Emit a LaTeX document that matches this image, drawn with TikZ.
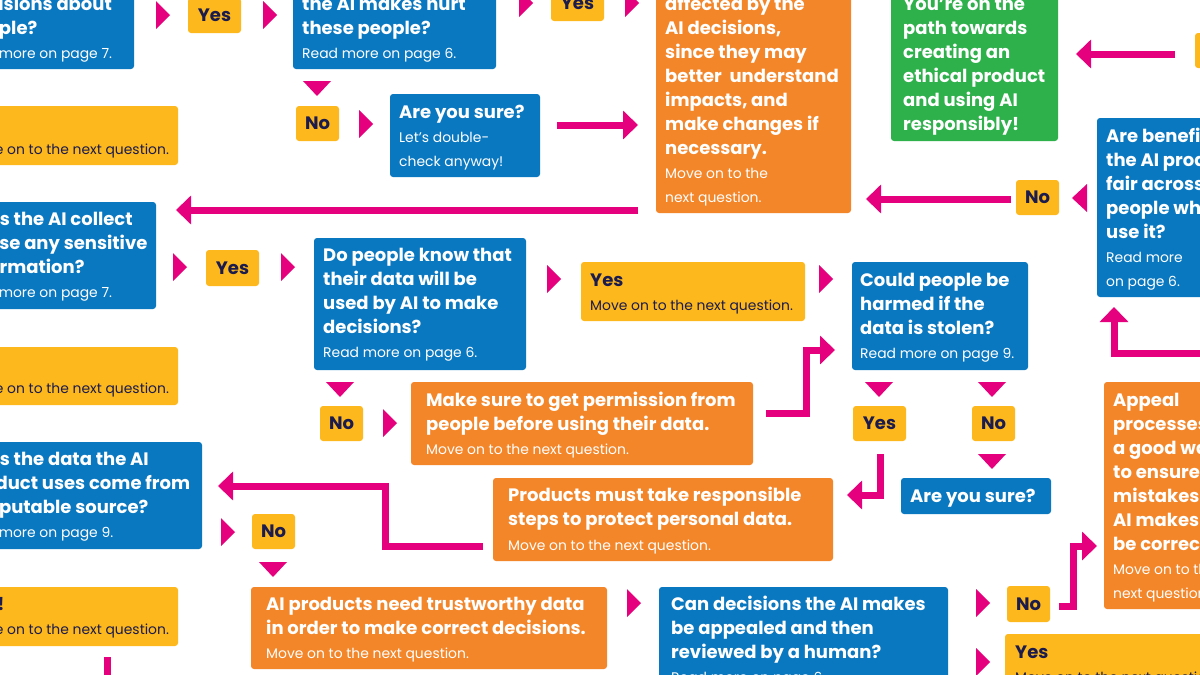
\documentclass[tikz,border=0pt]{standalone}
\usepackage{fontspec}
\setmainfont{Poppins}
\usetikzlibrary{arrows.meta,fit}
\definecolor{cblue}{HTML}{0A78C0}
\definecolor{corange}{HTML}{F4862A}
\definecolor{cyellow}{HTML}{FDB81E}
\definecolor{cgreen}{HTML}{2EB04B}
\definecolor{cpink}{HTML}{E5007D}
\definecolor{cnavy}{HTML}{1B1B4D}
\newcommand\tlines[5]{\foreach \t [count=\i] in {#5} {\node[#4] (#1\i) at (#2,{#3+24*(\i-1)}) {\t};}}
\newcommand\rtri[3]{\fill[cpink] (#2,{#3-14}) -- (#2+14,#3) -- (#2,{#3+14}) -- cycle; \coordinate (#1) at (#2,#3);}
\newcommand\ltri[3]{\fill[cpink] (#2+15,{#3-14}) -- (#2,#3) -- (#2+15,{#3+14}) -- cycle; \coordinate (#1) at (#2,#3);}
\newcommand\dtri[3]{\fill[cpink] ({#2-14},#3) -- (#2+14,#3) -- (#2,{#3+15}) -- cycle; \coordinate (#1) at (#2,#3);}
\begin{document}
\begin{tikzpicture}[x=1pt,y=-1pt,
  box/.style={fill=#1, rounded corners=3pt, inner sep=0pt, draw=none},
  bb/.style={box=cblue}, ob/.style={box=corange}, yb/.style={box=cyellow}, gb/.style={box=cgreen},
  lbl/.style={inner sep=0pt, text=cnavy, font=\bfseries\fontsize{18}{20}\selectfont},
  qb/.style={anchor=base west, inner sep=0pt, text=white, font=\bfseries\fontsize{18}{24}\selectfont},
  qs/.style={anchor=base west, inner sep=0pt, text=white, font=\fontsize{13.9}{24}\selectfont},
  nb/.style={qb, text=cnavy}, ns/.style={qs, text=cnavy},
  conn/.style={draw=cpink, line width=7pt, line join=miter, -{Triangle[length=15pt 0 0, width=28pt 0 0]}},
  plain/.style={draw=cpink, line width=7pt}]
\useasboundingbox (0,0) rectangle (1200,675);
\clip (0,0) rectangle (1200,675);
\fill[white] (0,0) rectangle (1200,675);

% ---------- boxes ----------
\node[bb, fit={(-50,-60) (134,69)}] (b1) {};
\node[bb, fit={(293,-60) (496,69)}] (b2) {};
\node[bb, fit={(390,94) (540,177)}] (sure) {};
\node[bb, fit={(1097,118) (1250,297)}] (ben) {};
\node[bb, fit={(-50,202) (156,309)}] (b3) {};
\node[bb, fit={(314,238) (526,370)}] (know) {};
\node[bb, fit={(852,262) (1028,370)}] (could) {};
\node[bb, fit={(901,478) (1051,514)}] (sure2) {};
\node[bb, fit={(-50,442) (202,549)}] (b4) {};
\node[bb, fit={(659,587) (948,700)}] (can) {};
\node[ob, fit={(656,-60) (851,213)}] (o1) {};
\node[ob, fit={(411,382) (753,465)}] (make) {};
\node[ob, fit={(1104,382) (1250,609)}] (app) {};
\node[ob, fit={(493,478) (833,561)}] (prod) {};
\node[ob, fit={(251,587) (607,669)}] (aip) {};
\node[gb, fit={(891,-60) (1058,141)}] (g1) {};
\node[yb, fit={(-50,106) (178,165)}] (y1) {};
\node[yb, fit={(-50,347) (178,405)}] (y2) {};
\node[yb, fit={(-50,587) (178,646)}] (y3) {};
\node[yb, fit={(581,262) (805,321)}] (ym1) {};
\node[yb, fit={(1005,634) (1250,700)}] (ym2) {};
\node[yb, fit={(1195,33) (1250,68)}] (yr) {};
\node[yb, fit={(188,-2) (241,33)}] (yes1) {};
\node[yb, fit={(551,-14) (604,21)}] (yes2) {};
\node[yb, fit={(296,106) (339,141)}] (no1) {};
\node[yb, fit={(1016,180) (1059,215)}] (no2) {};
\node[yb, fit={(206,250) (259,286)}] (yes3) {};
\node[yb, fit={(320,406) (363,441)}] (no3) {};
\node[yb, fit={(853,406) (906,441)}] (yes4) {};
\node[yb, fit={(972,406) (1015,441)}] (no4) {};
\node[yb, fit={(252,514) (295,549)}] (no5) {};
\node[yb, fit={(1007,586) (1050,622)}] (no6) {};
\node[lbl] (lyes1) at (yes1) {Yes};
\node[lbl] (lyes2) at (yes2) {Yes};
\node[lbl] (lno1) at (no1) {No};
\node[lbl] (lno2) at (no2) {No};
\node[lbl] (lyes3) at (yes3) {Yes};
\node[lbl] (lno3) at (no3) {No};
\node[lbl] (lyes4) at (yes4) {Yes};
\node[lbl] (lno4) at (no4) {No};
\node[lbl] (lno5) at (no5) {No};
\node[lbl] (lno6) at (no6) {No};

% ---------- texts ----------
\tlines{tb1a}{-36}{10}{qb}{decisions about, people?}
\tlines{tb1b}{-41}{58}{qs}{Read more on page 7.}
\tlines{tb2a}{302}{10}{qb}{the AI makes hurt, these people?}
\tlines{tb2b}{302}{58}{qs}{Read more on page 6.}
\tlines{to1a}{665}{10}{qb}{affected by the, {AI decisions,}, since they may, better\ \ understand, {impacts, and}, make changes if, necessary.}
\tlines{to1b}{665}{178}{qs}{Move on to the, next question.}
\tlines{tg1}{903}{10}{qb}{You’re on the, path towards, creating an, ethical product, and using AI, responsibly!}
\tlines{tsa}{399}{118}{qb}{Are you sure?}
\tlines{tsb}{399}{142}{qs}{Let’s double-, check anyway!}
\tlines{tbena}{1106}{142}{qb}{Are benefits of, the AI product, fair across, people who, use it?}
\tlines{tbenb}{1106}{262}{qs}{Read more, on page 6.}
\tlines{ty1}{-34}{154}{ns}{Move on to the next question.}
\tlines{ty2}{-34}{393}{ns}{Move on to the next question.}
\tlines{ty3a}{-36}{610}{nb}{Yes!}
\tlines{ty3b}{-34}{634}{ns}{Move on to the next question.}
\tlines{tb3a}{-36}{225}{qb}{Does the AI collect, or use any sensitive, information?}
\tlines{tb3b}{-41}{297}{qs}{Read more on page 7.}
\tlines{tkna}{323}{261}{qb}{Do people know that, their data will be, used by AI to make, decisions?}
\tlines{tknb}{323}{357}{qs}{Read more on page 6.}
\tlines{tym1a}{590}{286}{nb}{Yes}
\tlines{tym1b}{590}{310}{ns}{Move on to the next question.}
\tlines{tcoa}{860}{286}{qb}{Could people be, harmed if the, data is stolen?}
\tlines{tcob}{860}{358}{qs}{Read more on page 9.}
\tlines{tmka}{426}{406}{qb}{Make sure to get permission from, people before using their data.}
\tlines{tmkb}{426}{454}{qs}{Move on to the next question.}
\tlines{ts2}{910}{502}{qb}{Are you sure?}
\tlines{tapa}{1113}{406}{qb}{Appeal, processes are, a good way, to ensure, mistakes the, AI makes can, be corrected.}
\tlines{tapb}{1113}{574}{qs}{Move on to the, next question.}
\tlines{tb4a}{-36}{465}{qb}{Does the data the AI, product uses come from, a reputable source?}
\tlines{tb4b}{-41}{537}{qs}{Read more on page 9.}
\tlines{tpra}{508}{501}{qb}{Products must take responsible, steps to protect personal data.}
\tlines{tprb}{508}{550}{qs}{Move on to the next question.}
\tlines{taia}{266}{610}{qb}{AI products need trustworthy data, in order to make correct decisions.}
\tlines{taib}{266}{658}{qs}{Move on to the next question.}
\tlines{tcana}{671}{610}{qb}{Can decisions the AI makes, be appealed and then, reviewed by a human?}
\tlines{tcanb}{671}{682}{qs}{Read more on page 6.}
\tlines{tym2a}{1015}{658}{nb}{Yes}
\tlines{tym2b}{1015}{682}{ns}{Move on to the next question.}

% ---------- triangles ----------
\rtri{r1}{156}{15} \rtri{r2}{263}{15} \rtri{r3}{519}{3} \rtri{r4}{625}{3}
\rtri{r5}{359}{124} \rtri{r6}{173}{267} \rtri{r7}{281}{267} \rtri{r8}{547}{279}
\rtri{r9}{819}{279} \rtri{r10}{383}{423} \rtri{r11}{221}{532} \rtri{r12}{627}{603}
\rtri{r13}{976}{603} \rtri{r14}{976}{662}
\ltri{l1}{1072}{198}
\dtri{d1}{317}{81} \dtri{d2}{340}{382} \dtri{d3}{879}{382} \dtri{d4}{992}{382}
\dtri{d5}{992}{454} \dtri{d6}{273}{562}

% ---------- connectors ----------
\coordinate (a1s) at (1175,54);  \coordinate (a1e) at (1076,54);
\coordinate (a2s) at (557,125);  \coordinate (a2e) at (638,125);
\coordinate (a3s) at (638,210);  \coordinate (a3e) at (176,210);
\coordinate (a4s) at (1011,199); \coordinate (a4e) at (866,199);
\coordinate (a5s) at (1215,353); \coordinate (a5e) at (1114,307);
\coordinate (a6s) at (766,413);  \coordinate (a6e) at (835,350);
\coordinate (a7s) at (880,454);  \coordinate (a7e) at (847,495);
\coordinate (a8s) at (483,546);  \coordinate (a8e) at (218,486);
\coordinate (a9s) at (1059,606); \coordinate (a9e) at (1097,546);
\coordinate (a10s) at (107,657); \coordinate (a10e) at (107,690);
\draw[conn] (a1s) -- (a1e);
\draw[conn] (a2s) -- (a2e);
\draw[conn] (a3s) -- (a3e);
\draw[conn] (a4s) -- (a4e);
\draw[conn] (a5s) -| (a5e);
\draw[conn] (a6s) -- (806,413) |- (a6e);
\draw[conn] (a7s) |- (a7e);
\draw[conn] (a8s) -- (385,546) |- (a8e);
\draw[conn] (a9s) -- (1073,606) |- (a9e);
\draw[plain] (a10s) -- (a10e);
\end{tikzpicture}
\end{document}
